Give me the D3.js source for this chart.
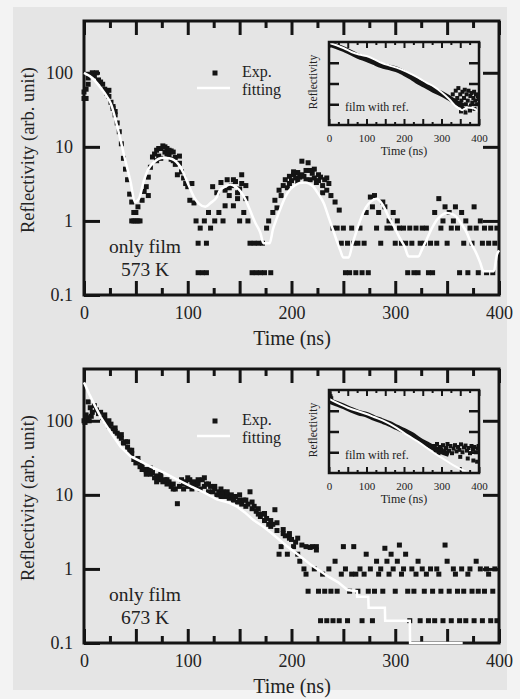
<!DOCTYPE html>
<html>
<head>
<meta charset="utf-8">
<title></title>
<script src="https://d3js.org/d3.v7.min.js"></script>
<style>
  body { margin: 0; background: #f3f3f3; }
</style>
</head>
<body>
<svg id="chart" width="520" height="699"></svg>
<script>
// sampling step of the recorded curves (ns)
const dt = 2;
const timeTicks = [0, 100, 200, 300, 400];
const reflTicks = [0.1, 1, 10, 100];
const insetReflTicks = [0.1, 1, 10];

// 573 K, only film : measured reflectivity, one value every 2 ns from t = 0
const exp573 = [
  55, 45, 70, 95, 100, 90, 100, 80, 75, 70,
  60, 53, 48, 40, 33, 27, 21, 16, 11, 7,
  5, 3.6, 2.3, 1.8, 1.3, 1.0, 1.55, 1.0, 1.9, 2.5,
  2.9, 3.9, 5.3, 7.3, 8, 9, 7.5, 9.5, 10.3, 8.5,
  9.5, 7.8, 8.8, 6.5, 7.2, 4.2, 6, 4.6, 3.8, 3.2,
  2.9, 1.9, 3.2, 1.75, 1.0, 0.5, 0.8, 0.2, 1.0, 0.5,
  1.3, 0.8, 2.9, 1.0, 2.4, 1.3, 3.3, 1.0, 2.6, 3.6,
  2.2, 3.0, 1.6, 3.4, 2.0, 2.7, 4.2, 1.3, 3.0, 1.0,
  0.5, 0.2, 0.5, 0.2, 0.5, 0.2, 0.5, 0.2, 0.8, 1.0,
  0.2, 1.3, 1.9, 1.5, 2.6, 2.2, 3.0, 3.6, 2.8, 4.0,
  3.5, 4.2, 3.8, 4.5, 3.9, 6.4, 4.0, 4.8, 6.1, 3.6,
  4.4, 5.0, 3.3, 4.2, 3.9, 3.0, 3.6, 2.6, 3.2, 2.2,
  0.8, 1.8, 0.8, 1.4, 0.5, 0.8, 0.2, 0.5, 0.2, 0.8,
  0.5, 0.2, 0.5, 0.8, 0.2, 0.5, 1.3, 0.2, 2.1, 1.55,
  2.2, 0.8, 1.3, 0.5, 1.8, 1.55, 0.8, 1.0, 0.8, 1.3,
  0.5, 1.0, 0.8, 0.5, 0.8, 0.5, 0.2, 0.8, 0.5, 0.2,
  0.8, 0.2, 0.5, 0.8, 0.5, 0.8, 0.2, 0.5, 0.2, 1.3,
  0.5, 2.0, 0.8, 1.0, 1.55, 0.5, 1.3, 0.8, 1.0, 1.55,
  0.8, 0.2, 1.3, 0.5, 1.0, 0.2, 0.8, 0.5, 1.55, 0.8,
  0.2, 1.0, 0.5, 0.8, 0.2, 0.5, 0.8, 0.2, 0.5, 0.8
];
// extra repeated shots (t, value) in the dense clouds
const extra573 = [[0,45],[2,60],[4,85],[24,58],[28,35],[30,30],[46,1.0],[48,1.0],[50,1.3],[52,1.0],
  [62,2.2],[70,6.5],[72,9.5],[74,7],[78,10],[80,8],[82,9],[84,6.8],[86,8.5],[88,5.8],[92,7.5],
  [110,0.2],[118,0.2],[136,1.6],[140,2.8],[144,3.6],[148,2.4],[150,1.0],[152,3.2],[156,2.0],
  [198,3.2],[202,4.6],[206,3.4],[210,4.2],[214,3.6],[218,4.8],[222,3.8],[226,3.5],[230,2.4],[234,3.8]];
const fit573 = [[0,100],[8,85],[16,63],[22,48],[26,38],[32,19],[39,7.3],[45,3.3],[49,1.8],[53,2.0],
  [58,3.6],[62,5],[67,6.1],[72,6.9],[77,7.1],[82,7.0],[87,6.6],[92,5.6],[96,4.4],[101,3.0],[106,2.1],
  [111,1.7],[117,1.55],[122,1.75],[128,2.1],[131,2.6],[136,2.9],[141,3.1],[146,2.9],[151,2.5],[156,1.9],
  [160,1.4],[165,0.95],[170,0.69],[173,0.5],[179,0.5],[182,0.76],[186,1.1],[190,1.55],[194,2.1],[198,2.6],
  [203,3.0],[208,3.25],[213,3.3],[217,3.2],[221,2.9],[226,2.3],[231,1.75],[236,1.1],[240,0.76],[244,0.52],
  [247,0.4],[250,0.32],[255,0.32],[259,0.5],[263,0.75],[266,1.0],[272,1.55],[277,1.85],[282,2.0],[286,1.8],
  [289,1.55],[294,1.1],[299,0.83],[304,0.6],[309,0.45],[313,0.33],[322,0.33],[326,0.42],[330,0.55],[335,0.78],
  [340,1.03],[345,1.2],[349,1.28],[354,1.25],[359,1.13],[364,0.9],[369,0.69],[373,0.5],[378,0.37],[382,0.27],
  [385,0.21],[395,0.21],[398,0.35],[400,0.4]];
// inset, film with ref.
const inset573Exp = [[0,80],[20,62],[40,45],[60,30],[80,20],[100,15],[120,10.5],[140,7.5],[160,6],[180,4.8],
  [200,3.2],[220,2.0],[240,1.15],[260,0.75],[280,0.47],[300,0.32],[320,0.2],[340,0.12],[360,0.08]];
const inset573Noise = [[330,0.3],[334,0.15],[338,0.45],[342,0.2],[345,0.6],[348,0.1],[350,0.3],[353,0.15],
  [356,0.4],[358,0.06],[360,0.2],[362,0.5],[365,0.1],[367,0.3],[370,0.15],[372,0.45],[375,0.07],[377,0.25],
  [380,0.35],[382,0.12],[385,0.2],[387,0.4],[390,0.15],[392,0.3],[395,0.1],[397,0.25],[399,0.18],
  [352,0.045],[364,0.04],[376,0.05],[388,0.06]];
const inset573Fit = [[0,90],[20,70],[40,50],[60,33],[80,25],[100,21],[120,15],[140,10],[160,7.5],[180,5.8],
  [200,4.2],[220,2.8],[240,1.8],[260,1.1],[280,0.7],[300,0.38],[320,0.18],[340,0.075],[355,0.052],
  [368,0.07],[384,0.066],[400,0.04]];

// 673 K, only film
const exp673 = [
  100, 120, 180, 150, 130, 160, 140, 125, 130, 110,
  105, 95, 100, 90, 78, 80, 68, 62, 58, 50,
  52, 44, 40, 36, 30, 27, 28, 24, 25, 22,
  21, 22, 19, 20, 17, 18, 16, 17, 15, 16,
  14, 15, 13, 14, 12, 7.6, 13, 16, 12, 15,
  13, 16, 12, 15, 13, 14, 12, 16, 13, 14,
  11, 13, 11, 12, 10, 11, 9.5, 11, 9.5, 10,
  9, 10, 8.5, 9.5, 8, 8.5, 7.5, 8.5, 7, 7.5,
  11, 6.5, 7, 6, 5.5, 5.1, 5.5, 4.5, 4.8, 4.0,
  3.75, 4.0, 6.3, 3.3, 1.58, 2.0, 3.0, 2.8, 1.58, 2.6,
  2.5, 2.0, 2.3, 1.58, 1.27, 2.1, 1.0, 0.85, 0.5, 1.95,
  2.0, 1.0, 2.0, 0.5, 0.2, 0.85, 0.5, 0.2, 1.0, 0.5,
  0.2, 1.27, 0.5, 0.2, 0.85, 2.0, 1.0, 0.2, 0.5, 0.85,
  2.0, 0.85, 0.5, 1.0, 0.2, 0.85, 1.58, 0.5, 1.0, 0.2,
  0.5, 1.27, 0.85, 1.0, 0.5, 1.9, 1.27, 0.85, 1.58, 1.0,
  0.5, 1.27, 2.1, 0.85, 1.0, 1.58, 0.5, 0.2, 1.0, 0.5,
  0.85, 1.27, 0.2, 1.0, 0.5, 0.85, 0.2, 1.0, 0.5, 0.2,
  1.0, 0.85, 0.5, 0.2, 2.1, 1.27, 0.5, 0.2, 1.0, 0.85,
  0.5, 0.2, 1.0, 0.5, 0.2, 0.85, 1.0, 0.5, 0.2, 1.27,
  0.5, 1.0, 0.2, 0.5, 1.0, 0.85, 0.2, 0.5, 1.0, 0.2
];
const extra673 = [[1,95],[3,110],[5,100],[7,115],[20,120],[24,85],[30,72],[36,65],[42,52],[46,40],
  [52,31],[56,22],[60,19],[64,23],[70,15],[74,19],[80,16],[86,12],[96,14],[100,17],[104,14],[110,16],
  [116,17],[120,14],[126,13],[132,12],[138,11],[144,9],[150,10],[156,8.5],[162,8],[168,6.5],[174,5.6],
  [180,4.5],[186,4.2],[192,3.4],[198,3.0],[206,2.6],[214,2.0],[224,1.8]];
const fit673 = [[0,330],[5,230],[10,165],[16,113],[21,88],[26,69],[35,45],[45,33],[55,28],[64,24],
  [77,20],[90,16],[103,13],[116,10.7],[128,8.7],[140,7.8],[147,7],[155,5.8],[163,4.6],[172,3.8],
  [180,3.1],[188,2.5],[196,2.0],[204,1.65],[212,1.35],[220,1.1],[228,0.93],[236,0.78],[245,0.66],
  [254,0.52],[263,0.5],[263.3,0.42],[274,0.42],[274.3,0.3],[290,0.3],[290.3,0.2],[314,0.2],[314.3,0.1],[365,0.1]];
const inset673Exp = [[0,30],[20,22],[40,16],[60,11],[80,8],[100,6.5],[120,4.5],[140,3.3],[160,2.4],
  [180,1.6],[200,1.1],[220,0.7],[240,0.4],[260,0.25],[280,0.16],[300,0.11],[320,0.08]];
const inset673Noise = [[2,70],[4,50],[6,40],[280,0.2],[284,0.12],[288,0.25],[292,0.09],[296,0.18],[300,0.14],
  [304,0.22],[308,0.1],[312,0.16],[316,0.25],[320,0.12],[324,0.2],[328,0.09],[332,0.15],[336,0.22],
  [340,0.11],[344,0.18],[348,0.13],[352,0.24],[356,0.1],[360,0.17],[364,0.21],[368,0.12],[372,0.16],
  [376,0.09],[380,0.2],[384,0.13],[388,0.18],[392,0.1],[396,0.15],[399,0.2],[370,0.05],[385,0.04],
  [395,0.035],[350,0.06]];
const inset673Fit = [[0,37],[50,14],[100,7],[120,5],[150,3],[180,1.5],[210,0.65],[240,0.3],[277,0.1],
  [300,0.055],[331,0.024],[368,0.011],[380,0.009]];

const serif = "'Liberation Serif', 'Times New Roman', serif";
const ink = "#141414";

let svg = d3.select("#chart");
svg.append("rect").attr("x", 13).attr("y", 7).attr("width", 494).attr("height", 683).attr("fill", "#e5e5e5");

function styleAxis(a, w, size) {
  a.select(".domain").remove();
  a.selectAll(".tick line").attr("stroke", ink).attr("stroke-width", w);
  a.attr("font-family", serif).attr("font-size", size);
  a.selectAll("text").attr("fill", "#222");
}

function drawPanel(p) {
  let top = p.top, bottom = p.top + 274;
  let x = d3.scaleLinear().domain([0, 400]).range([84, 499]);
  let y = d3.scaleLog().domain([0.1, 500]).range([bottom, top]);
  let g = svg.append("g");

  // axes (ticks inward)
  let major = d3.range(0, 401, 50), minor = d3.range(25, 400, 50);
  let ab = g.append("g").attr("transform", `translate(0,${bottom})`)
    .call(d3.axisBottom(x).tickValues(major).tickSize(-14).tickPadding(11)
      .tickFormat(d => timeTicks.includes(d) ? d : ""));
  styleAxis(ab, 3, 18);
  styleAxis(g.append("g").attr("transform", `translate(0,${bottom})`)
    .call(d3.axisBottom(x).tickValues(minor).tickSize(-7).tickFormat("")), 3, 18);
  styleAxis(g.append("g").attr("transform", `translate(0,${top})`)
    .call(d3.axisTop(x).tickValues(major).tickSize(-14).tickFormat("")), 3, 18);
  styleAxis(g.append("g").attr("transform", `translate(0,${top})`)
    .call(d3.axisTop(x).tickValues(minor).tickSize(-7).tickFormat("")), 3, 18);
  let al = g.append("g").attr("transform", "translate(84,0)")
    .call(d3.axisLeft(y).tickValues(reflTicks).tickSize(-16).tickPadding(11)
      .tickFormat(d => d < 1 ? "0.1" : d3.format("d")(d)));
  styleAxis(al, 3, 18);
  styleAxis(g.append("g").attr("transform", "translate(499,0)")
    .call(d3.axisRight(y).tickValues(reflTicks.slice(1)).tickSize(-16).tickFormat("")), 3, 18);

  g.append("rect").attr("x", 84).attr("y", top).attr("width", 415).attr("height", 274)
    .attr("fill", "none").attr("stroke", ink).attr("stroke-width", 3);

  // measured points
  let pts = p.exp.map((v, i) => [i * dt, v]).concat(p.extra);
  g.append("g").selectAll("rect").data(pts).join("rect")
    .attr("x", d => x(d[0]) - 2.5).attr("y", d => y(d[1]) - 2.5)
    .attr("width", 5).attr("height", 5).attr("fill", ink);

  // fitting
  g.append("path").datum(p.fit)
    .attr("d", d3.line().x(d => x(d[0])).y(d => y(d[1])).curve(p.curve))
    .attr("fill", "none").attr("stroke", "#fff").attr("stroke-width", 2.5);

  // legend
  let lg = g.append("g").attr("font-family", serif).attr("font-size", 16).attr("fill", "#222");
  lg.append("rect").attr("x", 212.5).attr("y", top + 49.5).attr("width", 5).attr("height", 5).attr("fill", ink);
  lg.append("line").attr("x1", 197).attr("x2", 230).attr("y1", top + 67).attr("y2", top + 67)
    .attr("stroke", "#fff").attr("stroke-width", 2.5);
  lg.append("text").attr("x", 242).attr("y", top + 56).text("Exp.");
  lg.append("text").attr("x", 242).attr("y", top + 74).text("fitting");

  let ann = g.append("g").attr("font-family", serif).attr("font-size", 19.5).attr("fill", "#222")
    .attr("text-anchor", "middle");
  ann.append("text").attr("x", 145).attr("y", top + 232).text(p.label[0]);
  ann.append("text").attr("x", 145).attr("y", top + 255).text(p.label[1]);

  // axis titles
  svg.append("text").attr("transform", `translate(28,${top + 129}) rotate(-90)`)
    .attr("text-anchor", "middle").attr("dy", "0.35em")
    .attr("font-family", serif).attr("font-size", 18.5).attr("fill", "#222")
    .text("Reflectivity (arb. unit)");
  svg.append("text").attr("x", 292).attr("y", top + 324).attr("text-anchor", "middle")
    .attr("font-family", serif).attr("font-size", 20).attr("fill", "#222").text("Time (ns)");

  drawInset(p, top + 21);
}

function drawInset(p, top) {
  let bottom = top + 83;
  let x = d3.scaleLinear().domain([0, 400]).range([329, 479]);
  let y = d3.scaleLog().domain([0.01, 100]).range([bottom, top]);
  let g = svg.append("g");
  let id = "clip" + top;
  g.append("clipPath").attr("id", id).append("rect")
    .attr("x", 329).attr("y", top).attr("width", 150).attr("height", 83);

  let major = d3.range(0, 401, 50), minor = d3.range(25, 400, 50);
  let ab = g.append("g").attr("transform", `translate(0,${bottom})`)
    .call(d3.axisBottom(x).tickValues(major).tickSize(-6).tickPadding(9)
      .tickFormat(d => timeTicks.includes(d) ? d : ""));
  styleAxis(ab, 2, 11);
  styleAxis(g.append("g").attr("transform", `translate(0,${bottom})`)
    .call(d3.axisBottom(x).tickValues(minor).tickSize(-3).tickFormat("")), 2, 11);
  styleAxis(g.append("g").attr("transform", `translate(0,${top})`)
    .call(d3.axisTop(x).tickValues(major).tickSize(-6).tickFormat("")), 2, 11);
  styleAxis(g.append("g").attr("transform", `translate(0,${top})`)
    .call(d3.axisTop(x).tickValues(minor).tickSize(-3).tickFormat("")), 2, 11);
  styleAxis(g.append("g").attr("transform", "translate(329,0)")
    .call(d3.axisLeft(y).tickValues(insetReflTicks).tickSize(-10).tickFormat("")), 2.5, 11);
  styleAxis(g.append("g").attr("transform", "translate(479,0)")
    .call(d3.axisRight(y).tickValues(insetReflTicks).tickSize(-10).tickFormat("")), 2.5, 11);

  let body = g.append("g").attr("clip-path", `url(#${id})`);
  body.append("path").datum(p.inExp)
    .attr("d", d3.line().x(d => x(d[0])).y(d => y(d[1])).curve(d3.curveMonotoneX))
    .attr("fill", "none").attr("stroke", ink).attr("stroke-width", 5.5);
  body.selectAll("rect.pt").data(p.inNoise).join("rect").attr("class", "pt")
    .attr("x", d => x(d[0]) - 2).attr("y", d => y(d[1]) - 2)
    .attr("width", 4).attr("height", 4).attr("fill", ink);
  body.append("path").datum(p.inFit)
    .attr("d", d3.line().x(d => x(d[0])).y(d => y(d[1])).curve(d3.curveMonotoneX))
    .attr("fill", "none").attr("stroke", "#fff").attr("stroke-width", 2);

  g.append("rect").attr("x", 329).attr("y", top).attr("width", 150).attr("height", 83)
    .attr("fill", "none").attr("stroke", ink).attr("stroke-width", 2.5);

  let tg = g.append("g").attr("font-family", serif).attr("fill", "#222");
  tg.append("text").attr("x", 345).attr("y", top + 69).attr("font-size", 12).text("film with ref.");
  tg.append("text").attr("x", 404).attr("y", top + 113).attr("text-anchor", "middle")
    .attr("font-size", 12).text("Time (ns)");
  tg.append("text").attr("transform", `translate(313,${top + 40}) rotate(-90)`)
    .attr("text-anchor", "middle").attr("dy", "0.35em").attr("font-size", 11.5).text("Reflectivity");
}

const panels = [
  { top: 21, exp: exp573, extra: extra573, fit: fit573, curve: d3.curveMonotoneX,
    inExp: inset573Exp, inNoise: inset573Noise, inFit: inset573Fit, label: ["only film", "573 K"] },
  { top: 369, exp: exp673, extra: extra673, fit: fit673, curve: d3.curveLinear,
    inExp: inset673Exp, inNoise: inset673Noise, inFit: inset673Fit, label: ["only film", "673 K"] }
];
panels.forEach(drawPanel);
</script>
</body>
</html>
